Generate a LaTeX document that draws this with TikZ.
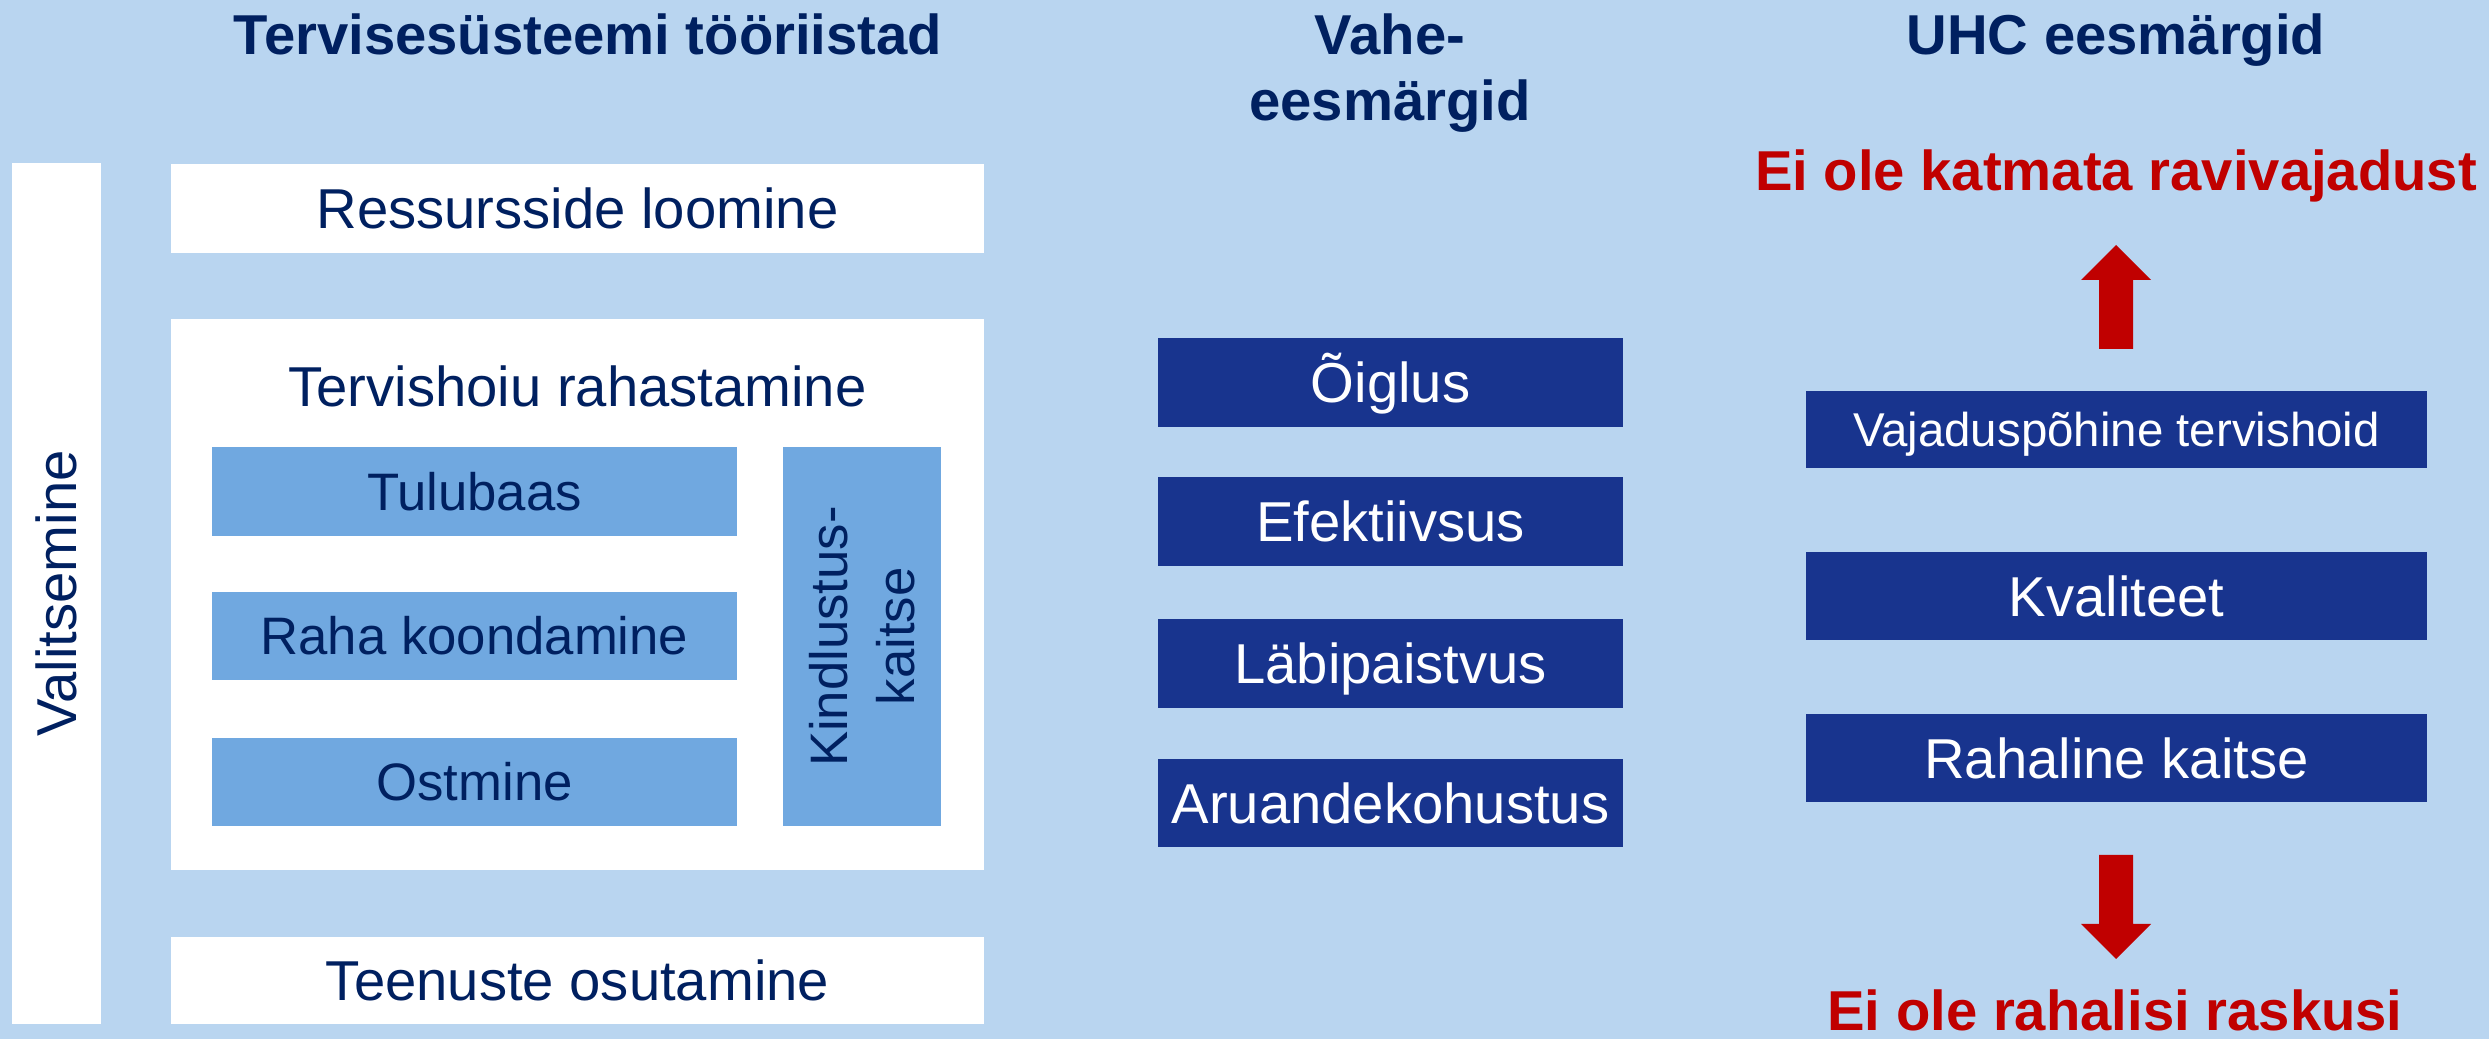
\documentclass[tikz,border=0pt]{standalone}
\usepackage{fontspec}
\setmainfont{Liberation Sans}
\usepackage{xcolor}
\usepackage{tikz}
\usetikzlibrary{positioning}
\definecolor{hsbg}{RGB}{185, 213, 240}
\definecolor{hsnavy}{RGB}{0, 32, 96}
\definecolor{hsdark}{RGB}{24, 52, 142}
\definecolor{hslight}{RGB}{112, 168, 224}
\definecolor{hsred}{RGB}{192, 0, 0}

\begin{document}
\begin{tikzpicture}[
  whitebox/.style={fill=white, inner sep=0pt, text=hsnavy, font=\fontsize{32}{38}\selectfont, text height=22.9pt, text depth=0pt, minimum width=16.26cm, minimum height=1.77cm},
  subbox/.style={fill=hslight, inner sep=0pt, text=hsnavy, font=\fontsize{30}{38}\selectfont, minimum width=10.5cm, minimum height=1.77cm},
  subline/.style={subbox, text height=21.5pt, text depth=0pt},
  goalbox/.style={fill=hsdark, inner sep=0pt, text=white, font=\fontsize{32}{38}\selectfont, text height=22.9pt, text depth=0pt, minimum width=9.3cm, minimum height=1.77cm},
  uhcbox/.style={goalbox, minimum width=12.42cm},
  heading/.style={inner sep=0pt, text=hsnavy, font=\fontsize{32}{38}\selectfont\bfseries},
  outcome/.style={inner sep=0pt, anchor=base, text=hsred, font=\fontsize{32}{38}\selectfont\bfseries}
]
% Background
\fill[hsbg] (0,0) rectangle (49.78,20.78);
\useasboundingbox (0,0) rectangle (49.78,20.78);

% Column headings
\node[heading, anchor=base] (tools) at (11.76,19.68) {Tervisesüsteemi tööriistad};
\node[heading, anchor=north, align=center] (inter) at (27.80,20.52) {Vahe-\\eesmärgid};
\node[heading, anchor=base] (uhc) at (42.32,19.68) {UHC eesmärgid};

% Health system tools
\node[whitebox, rotate=90, minimum width=17.22cm, minimum height=1.78cm] (gov) at (1.13,8.91) {Valitsemine};
\node[whitebox] (res) at (11.55,16.61) {Ressursside loomine};
\node[whitebox, minimum height=11.02cm] (fin) at (11.55,8.89) {};
\node[whitebox, minimum width=0pt, minimum height=0pt] (fintitle) at (11.55,13.05) {Tervishoiu rahastamine};
\node[subline] (rev) at (9.49,10.95) {Tulubaas};
\node[subline] (pool) at (9.49,8.06) {Raha koondamine};
\node[subline] (buy) at (9.49,5.14) {Ostmine};
\node[subbox, rotate=90, align=center, minimum width=7.58cm, minimum height=3.16cm] (cover) at (17.24,8.05) {Kindlustus-\\kaitse};
\node[whitebox, minimum height=1.74cm] (serv) at (11.55,1.17) {Teenuste osutamine};

% Intermediate objectives
\node[goalbox] (equity) at (27.81,13.13) {Õiglus};
\node[goalbox] (effic) at (27.81,10.35) {Efektiivsus};
\node[goalbox] (transp) at (27.81,7.51) {Läbipaistvus};
\node[goalbox] (account) at (27.81,4.72) {Aruandekohustus};

% UHC goals
\node[uhcbox, minimum height=1.54cm, font=\fontsize{27}{32}\selectfont, text height=19.3pt] (need) at (42.33,12.19) {Vajaduspõhine tervishoid};
\node[uhcbox] (quality) at (42.33,8.86) {Kvaliteet};
\node[uhcbox] (protect) at (42.33,5.62) {Rahaline kaitse};

% Outcomes
\node[outcome] (nounmet) at (42.32,16.96) {Ei ole katmata ravivajadust};
\node[outcome] (nohard) at (42.30,0.16) {Ei ole rahalisi raskusi};

% Block arrows
\fill[hsred] (41.98,13.80) -- (41.98,15.18) -- (41.62,15.18) -- (42.32,15.88) -- (43.02,15.18) -- (42.66,15.18) -- (42.66,13.80) -- cycle;
\fill[hsred] (41.98,3.68) -- (41.98,2.30) -- (41.62,2.30) -- (42.32,1.60) -- (43.02,2.30) -- (42.66,2.30) -- (42.66,3.68) -- cycle;
\end{tikzpicture}
\end{document}
